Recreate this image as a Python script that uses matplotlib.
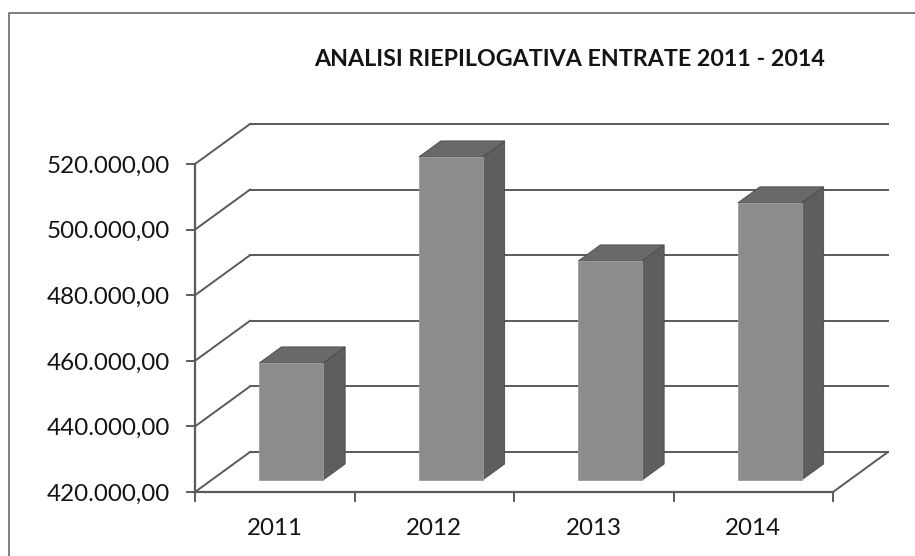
import matplotlib
matplotlib.use("Agg")
import matplotlib.pyplot as plt
from matplotlib.lines import Line2D
from matplotlib.patches import Polygon, Rectangle

W = 915
H = 556

years = ["2011", "2012", "2013", "2014"]
entrate = [455700, 518500, 486800, 504500]
y_ticks = [420000, 440000, 460000, 480000, 500000, 520000]
y_labels = ["420.000,00", "440.000,00", "460.000,00", "480.000,00", "500.000,00", "520.000,00"]
title = "ANALISI RIEPILOGATIVA ENTRATE 2011 - 2014"

FRONT = "#8c8c8c"
SIDE = "#5e5e5e"
TOP = "#696969"
LINE = "#5a5a5a"
TEXT = "#141414"

plt.rcParams["font.family"] = ["Lato", "DejaVu Sans"]

fig = plt.figure(figsize=(W / 100, H / 100), dpi=100, facecolor="white")
# axes box is the front plane of the fake 3d chart
ax = fig.add_axes([195 / W, (H - 492) / H, 638 / W, 328 / H])
ax.set_xlim(0, len(years))
ax.set_ylim(y_ticks[0], y_ticks[-1])
ax.patch.set_visible(False)
for s in ax.spines.values():
    s.set_visible(False)

# depth of the floor, in data units (55 px across, 40 px up)
per_x = 638 / len(years)
per_y = (y_ticks[-1] - y_ticks[0]) / 328
depth_x = 55 / per_x
depth_y = 40 * per_y


def shift(x, y, d):
    return x + d * depth_x, y + d * depth_y


def line(xs, ys, lw=1.4, z=1):
    ax.add_line(Line2D(xs, ys, color=LINE, lw=lw, zorder=z, clip_on=False))


n = len(years)
base = y_ticks[0]

# walls and gridlines, they stop at the back right corner
for t in y_ticks:
    bx, by = shift(0, t, 1)
    ex, _ = shift(n, t, 1)
    line([0, bx], [t, by])
    line([bx, ex], [by, by])

# floor right edge and front axis
bx, by = shift(n, base, 1)
line([n, bx], [base, by])
line([0, n], [base, base], lw=1.6, z=2)
line([0, 0], [y_ticks[0], y_ticks[-1]], lw=1.6, z=2)

# ticks
for t in y_ticks:
    line([-8 / per_x, 0], [t, t], z=2)
for i in range(n + 1):
    line([i, i], [base, base - 9 * per_y], z=2)

# bars
bar_w = 0.4
d0 = 0.3
d1 = 0.7
for i, v in enumerate(entrate):
    left = i + 0.5 - bar_w / 2
    right = left + bar_w
    x0, y0 = shift(left, base, d0)
    x1, y1 = shift(right, base, d0)
    top = y0 + (v - base)
    x2, y2 = shift(right, base, d1)
    x3, y3 = shift(left, base, d1)
    ytop_back = y2 + (v - base)
    ax.add_patch(Polygon([(x1, y1), (x2, y2), (x2, ytop_back), (x1, top)], closed=True,
                         fc=SIDE, ec="#4a4a4a", lw=0.6, zorder=3, clip_on=False))
    ax.add_patch(Polygon([(x0, top), (x1, top), (x2, ytop_back), (x3, ytop_back)], closed=True,
                         fc=TOP, ec="#4a4a4a", lw=0.6, zorder=3, clip_on=False))
    ax.add_patch(Rectangle((x0, y0), x1 - x0, top - y0, fc=FRONT, ec="#9a9a9a", lw=0.6,
                           zorder=4, clip_on=False))

ax.set_xticks([])
ax.set_yticks([])

# tick labels
for t, lab in zip(y_ticks, y_labels):
    ax.annotate(lab, (0, t), xytext=(-18, -1.5), textcoords="offset points", ha="right",
                va="center", fontsize=17.4, color=TEXT, annotation_clip=False)
for i, lab in enumerate(years):
    ax.annotate(lab, (i + 0.5, base), xytext=(0, -26.5), textcoords="offset points", ha="center",
                va="center", fontsize=17.4, color=TEXT, annotation_clip=False)

fig.text(570 / W, 1 - 59 / H, title, ha="center", va="center", fontsize=16.75, fontweight="bold",
         color=TEXT)

# outer frame, open on right and bottom
fig.add_artist(Line2D([9 / W, 9 / W, 1], [0, 1 - 13 / H, 1 - 13 / H], color="#6a6a6a", lw=1.2))

fig.savefig("out.png", dpi=100)
